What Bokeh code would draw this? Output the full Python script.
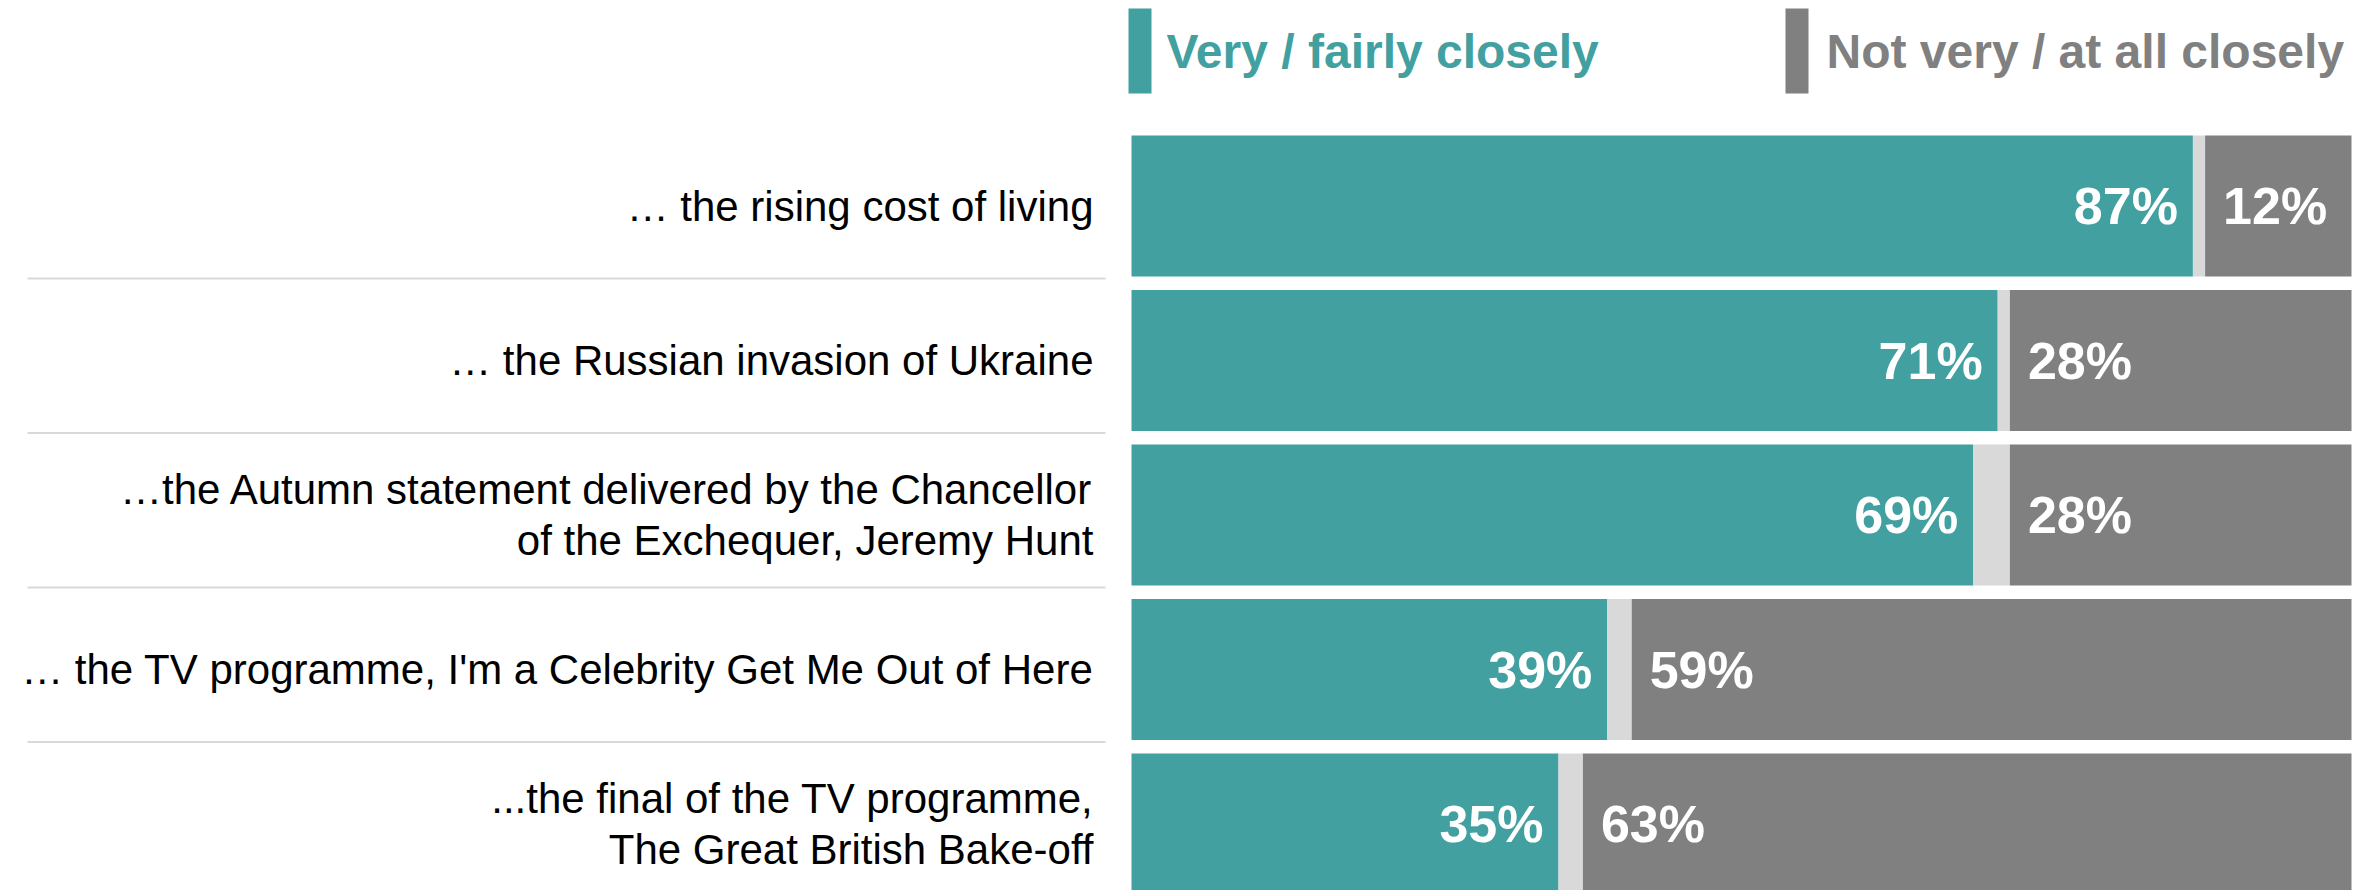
from bokeh.plotting import figure
from bokeh.models import Range1d, ColumnDataSource
from bokeh.core.properties import value
from bokeh.embed import file_html
from bokeh.resources import INLINE

# ---------------- data ----------------
categories = [
    "\u2026 the rising cost of living",
    "\u2026 the Russian invasion of Ukraine",
    "\u2026the Autumn statement delivered by the Chancellor\nof the Exchequer, Jeremy Hunt",
    "\u2026 the TV programme, I'm a Celebrity Get Me Out of Here",
    "...the final of the TV programme,\nThe Great British Bake-off",
]
very_fairly = [87, 71, 69, 39, 35]
not_very = [12, 28, 28, 59, 63]
series_names = ["Very / fairly closely", "Not very / at all closely"]

# ---------------- styles ----------------
TEAL = "#42A0A0"
GREY = "#808080"
GAP = "#D9D9D9"
FONT = "Liberation Sans"

# ---------------- layout (pixels of the page) ----------------
W, H = 2367, 890          # figure size
ORIGIN = 0                # bokeh's page template has no body margin
BAR_X0, BAR_X1 = 1131, 2351   # image x of 0% and 100%
ROW0_Y, ROW_PITCH = 205.5, 154.5
PPU_X = (BAR_X1 - BAR_X0) / 100.0


def dx(px):
    return (px - BAR_X0) / PPU_X


def dy(py):
    return (py - ROW0_Y) / ROW_PITCH


x_range = Range1d(dx(ORIGIN), dx(ORIGIN + W))
y_range = Range1d(dy(ORIGIN + H), dy(ORIGIN))   # inverted: first row on top

p = figure(width=W, height=H, x_range=x_range, y_range=y_range,
           output_backend="svg", toolbar_location=None, min_border=0,
           background_fill_color="white", border_fill_color="white")
p.axis.visible = False
p.grid.visible = False
p.outline_line_color = None

n = len(categories)
rows = list(range(n))
gap_right = [100 - v for v in not_very]
src = ColumnDataSource(dict(
    y=rows, cat=categories, very=very_fairly, notv=not_very,
    gap_right=gap_right, hundred=[100] * n,
    very_lbl=[f"{v}%" for v in very_fairly],
    not_lbl=[f"{v}%" for v in not_very],
))

BAR_H = 141 / ROW_PITCH
p.hbar(y="y", left=0, right="very", height=BAR_H, source=src,
       fill_color=TEAL, line_color=None)
p.hbar(y="y", left="very", right="gap_right", height=BAR_H, source=src,
       fill_color=GAP, line_color=None)
p.hbar(y="y", left="gap_right", right="hundred", height=BAR_H, source=src,
       fill_color=GREY, line_color=None)

# value labels
p.text(x="very", y="y", text="very_lbl", source=src, x_offset=-15,
       text_align="right", text_baseline="middle", text_color="white",
       text_font=value(FONT), text_font_style="bold",
       text_font_size=value("52px"))
p.text(x="gap_right", y="y", text="not_lbl", source=src, x_offset=18,
       text_align="left", text_baseline="middle", text_color="white",
       text_font=value(FONT), text_font_style="bold",
       text_font_size=value("52px"))

# category labels
p.text(x=0, y="y", text="cat", source=src, x_offset=-38,
       text_align="right", text_baseline="middle", text_color="black",
       text_font=value(FONT), text_font_size=value("42px"),
       text_line_height=1.1)

# separators between rows in the label area
sep_y = [r + 0.5 - 0.03 for r in rows[:-1]]
p.segment(x0=[dx(27)] * len(sep_y), x1=[dx(1105)] * len(sep_y),
          y0=sep_y, y1=sep_y, line_color=GAP, line_width=2)

# legend (custom: tall colour bar + coloured bold text)
leg_colors = [TEAL, GREY]
leg_bar_left = [dx(1128), dx(1785)]
leg_bar_right = [dx(1151), dx(1808)]
leg_text_x = [dx(1166), dx(1826)]
p.quad(left=leg_bar_left, right=leg_bar_right,
       top=[dy(8)] * 2, bottom=[dy(93)] * 2,
       fill_color=leg_colors, line_color=None)
p.text(x=leg_text_x, y=[dy(51)] * 2, text=series_names,
       text_color=leg_colors, text_align="left", text_baseline="middle",
       text_font=value(FONT), text_font_style="bold",
       text_font_size=value("48px"))

open("out.html", "w").write(file_html(p, INLINE))
